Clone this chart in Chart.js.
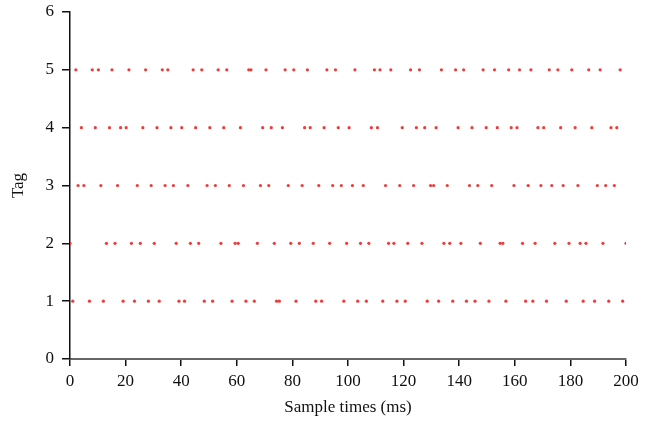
<!DOCTYPE html>
<html>
<head>
<meta charset="utf-8">
<script src="https://cdn.jsdelivr.net/npm/chart.js@4"></script>
<style>
  html, body { margin: 0; padding: 0; background: #fff; }
  #wrap { width: 655px; height: 422px; }
</style>
</head>
<body>
<div id="wrap"><canvas id="tagChart" width="655" height="422"></canvas></div>
<script>
// sample times (ms) at which each tag was read
const tag1Times = [1.0, 7.0, 12.0, 19.1, 23.2, 28.2, 32.1, 39.2, 41.2, 48.3, 51.3, 58.3, 63.3, 66.3, 74.3, 75.3, 81.3, 88.4, 90.5, 98.5,
  103.5, 106.6, 112.5, 117.6, 120.6, 128.5, 132.6, 137.7, 142.6, 145.7, 150.7, 156.8, 163.9, 166.5, 171.4, 178.5, 184.6, 188.7, 193.8, 198.8];
const tag2Times = [0, 13.1, 16.2, 22.1, 25.3, 30.3, 38.2, 43.3, 46.3, 54.3, 59.4, 60.5, 67.4, 73.5, 79.4, 82.5, 87.5, 93.4, 99.5,
  104.5, 107.5, 114.6, 116.5, 121.5, 126.6, 134.5, 136.6, 140.6, 147.6, 154.7, 155.7, 162.8, 167.3, 174.4, 179.5, 183.5, 185.6, 191.7, 200];
const tag3Times = [2.9, 5.0, 11.1, 17.1, 24.2, 29.2, 34.2, 37.2, 42.4, 49.3, 52.3, 57.3, 62.4, 68.5, 71.5, 78.5, 83.5, 89.5, 94.5, 97.6,
  101.6, 105.5, 113.5, 118.6, 123.6, 129.7, 130.8, 135.7, 143.7, 146.7, 151.7, 159.7, 164.8, 169.4, 173.3, 177.4, 182.7, 189.7, 192.7, 195.8];
const tag4Times = [4.1, 9.1, 14.2, 18.2, 20.2, 26.2, 31.3, 36.3, 40.2, 45.2, 50.3, 55.3, 61.3, 69.3, 72.4, 76.4, 84.4, 86.4, 91.4, 96.5,
  100.4, 108.4, 110.6, 119.5, 124.6, 127.6, 131.7, 139.6, 144.6, 149.7, 153.7, 158.7, 160.8, 168.3, 170.4, 176.5, 181.7, 187.7, 194.6, 196.7];
const tag5Times = [2.1, 8.0, 10.2, 15.1, 21.2, 27.2, 33.2, 35.2, 44.3, 47.4, 53.3, 56.4, 64.3, 65.1, 70.5, 77.4, 80.5, 85.4, 92.4, 95.5,
  102.5, 109.5, 111.5, 115.4, 122.5, 125.7, 133.6, 138.7, 141.6, 148.6, 152.7, 157.8, 161.7, 165.8, 172.4, 175.5, 180.5, 186.6, 190.7, 197.9];

const tagTimes = [tag1Times, tag2Times, tag3Times, tag4Times, tag5Times];
const xTicks = [0, 20, 40, 60, 80, 100, 120, 140, 160, 180, 200];
const yTicks = [0, 1, 2, 3, 4, 5, 6];

const points = [];
tagTimes.forEach((times, i) => {
  times.forEach(t => points.push({ x: t, y: i + 1 }));
});

const serif = { family: '"Liberation Serif", "DejaVu Serif", serif', size: 17 };

const ctx = document.getElementById('tagChart').getContext('2d');
new Chart(ctx, {
  type: 'scatter',
  data: {
    datasets: [{
      data: points,
      backgroundColor: '#f03a3a',
      borderColor: '#f03a3a',
      borderWidth: 0,
      pointRadius: 1.6,
      pointHoverRadius: 1.6
    }]
  },
  options: {
    responsive: false,
    animation: false,
    layout: { padding: { left: 0, right: 29, top: 12, bottom: 0 } },
    plugins: { legend: { display: false }, tooltip: { enabled: false } },
    scales: {
      x: {
        type: 'linear',
        min: 0,
        max: 200,
        afterBuildTicks: scale => { scale.ticks = xTicks.map(v => ({ value: v })); },
        afterFit: scale => { scale.height = 63; scale.paddingLeft = 0; scale.paddingRight = 0; },
        border: { display: true, color: '#666', width: 2 },
        grid: { display: true, drawOnChartArea: false, drawTicks: true, tickLength: 7, color: '#111', lineWidth: 1.5 },
        ticks: { color: '#111', font: serif, padding: 5, maxRotation: 0 },
        title: { display: true, text: 'Sample times (ms)', color: '#111', font: serif, padding: { top: 4, bottom: 4 } }
      },
      y: {
        type: 'linear',
        min: 0,
        max: 6,
        afterBuildTicks: scale => { scale.ticks = yTicks.map(v => ({ value: v })); },
        afterFit: scale => { scale.width = 70; scale.paddingTop = 0; scale.paddingBottom = 0; },
        border: { display: true, color: '#111', width: 1.5 },
        grid: { display: true, drawOnChartArea: false, drawTicks: true, tickLength: 8, color: '#111', lineWidth: 1.5 },
        ticks: { color: '#111', font: serif, padding: 8 },
        title: { display: true, text: 'Tag', color: '#111', font: serif, padding: { top: 8, bottom: 4 } }
      }
    }
  }
});
</script>
</body>
</html>
